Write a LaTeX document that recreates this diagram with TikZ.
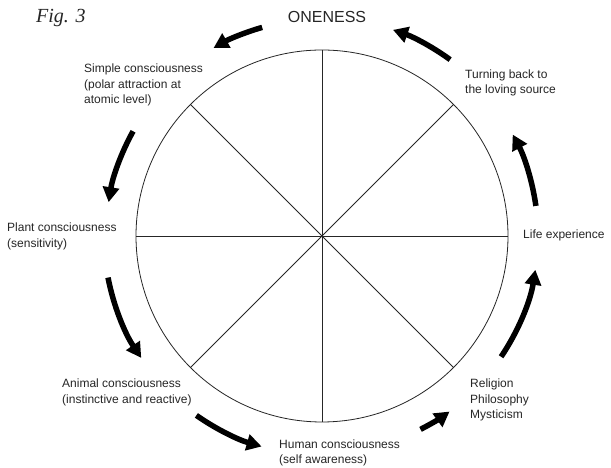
\documentclass[tikz,border=0pt]{standalone}
\usepackage{fontspec}
\setmainfont{Liberation Sans}
\newfontfamily\figfont{Liberation Serif}
\usetikzlibrary{arrows.meta}
\begin{document}
\begin{tikzpicture}[x=1pt,y=1pt,
  lab/.style={font=\fontsize{12}{15.5}\selectfont, align=left, anchor=west, inner sep=0pt, text=black!85},
  bigarrow/.style={line width=5.5pt, -{Triangle[length=15pt,width=16pt]}},
  circline/.style={line width=0.8pt, draw=black!85}]
\useasboundingbox[fill=white] (0,0) rectangle (611,468);
\coordinate (c) at (322,232);
\foreach \a in {0,45,...,315}{\coordinate (p\a) at ([shift={(\a:186pt)}]c);}
\draw[circline] (c) circle[radius=186pt];
\draw[circline] (p0) -- (p180);
\draw[circline] (p45) -- (p225);
\draw[circline] (p90) -- (p270);
\draw[circline] (p135) -- (p315);
% arrows
\draw[bigarrow] ([shift={(106:217pt)}]c) arc[start angle=106,end angle=120,radius=217pt];
\draw[bigarrow] ([shift={(54:218pt)}]c) arc[start angle=54,end angle=71,radius=218pt];
\draw[bigarrow] ([shift={(151:216pt)}]c) arc[start angle=151,end angle=171,radius=216pt];
\draw[bigarrow] ([shift={(8:216pt)}]c) arc[start angle=8,end angle=28,radius=216pt];
\draw[bigarrow] ([shift={(191:218pt)}]c) arc[start angle=191,end angle=214,radius=218pt];
\draw[bigarrow] ([shift={(-34:216pt)}]c) arc[start angle=-34,end angle=-9,radius=216pt];
\draw[bigarrow] ([shift={(235:219pt)}]c) arc[start angle=235,end angle=254,radius=219pt];
\draw[bigarrow] ([shift={(297:217pt)}]c) arc[start angle=297,end angle=306,radius=217pt];
% labels
\node[anchor=west, inner sep=0pt, font=\figfont\itshape\fontsize{20}{22}\selectfont, text=black!85] (fig) at (36,450) {Fig. 3};
\node[inner sep=0pt, font=\fontsize{16}{18}\selectfont, text=black!85] (one) at (327,451) {ONENESS};
\node[lab] (simple) at (84,383) {Simple consciousness\\(polar attraction at\\atomic level)};
\node[lab] (turn) at (465,385) {Turning back to\\the loving source};
\node[lab] (plant) at (7,231.5) {Plant consciousness\\(sensitivity)};
\node[lab] (life) at (523,233) {Life experience};
\node[lab] (animal) at (62,75.5) {Animal consciousness\\(instinctive and reactive)};
\node[lab] (human) at (279,15) {Human consciousness\\(self awareness)};
\node[lab] (rel) at (470,68) {Religion\\Philosophy\\Mysticism};
\end{tikzpicture}
\end{document}
